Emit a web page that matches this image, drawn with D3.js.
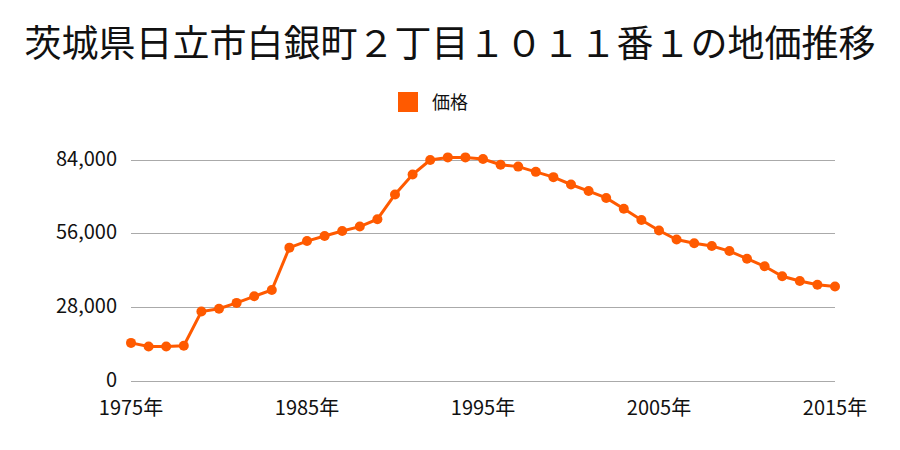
<!DOCTYPE html>
<html>
<head>
<meta charset="utf-8">
<script src="https://cdn.jsdelivr.net/npm/d3@7"></script>
<style>
  body { margin: 0; background: #fff; }
  svg text { font-family: "Noto Sans CJK JP", "Noto Sans", sans-serif; }
</style>
</head>
<body>
<div id="chart"></div>
<script>
var title = "茨城県日立市白銀町２丁目１０１１番１の地価推移";
var seriesName = "価格";
var years = [1975,1976,1977,1978,1979,1980,1981,1982,1983,1984,1985,1986,1987,1988,1989,1990,
  1991,1992,1993,1994,1995,1996,1997,1998,1999,2000,2001,2002,2003,2004,2005,2006,2007,2008,
  2009,2010,2011,2012,2013,2014,2015];
var prices = [14300,12900,12900,13200,26200,27300,29500,32000,34400,50500,53000,54900,56800,58500,
  61300,70700,78300,83800,84800,84800,84200,82000,81300,79300,77300,74500,72000,69400,65300,
  61000,57000,53600,52200,51100,49200,46300,43400,39600,37800,36400,35700];
var yTicks = [0, 28000, 56000, 84000];
var xTicks = [1975, 1985, 1995, 2005, 2015];

var color = "#ff5a00";
var width = 900, height = 450;
var svg = d3.select("#chart").append("svg").attr("width", width).attr("height", height);

var x = d3.scaleLinear().domain([1975, 2015]).range([131, 835]);
var y = d3.scaleLinear().domain([0, 84000]).range([380.5, 159.5]);

// title
svg.append("text")
  .attr("x", width / 2).attr("y", 57)
  .attr("text-anchor", "middle")
  .attr("font-size", "37px")
  .attr("fill", "#111")
  .text(title);

// legend
svg.append("rect").attr("x", 398).attr("y", 92).attr("width", 20).attr("height", 20).attr("fill", color);
svg.append("text").attr("x", 432).attr("y", 109).attr("font-size", "18px").attr("fill", "#111").text(seriesName);

// grid + y labels
var yAxis = svg.append("g");
yAxis.selectAll("line").data(yTicks).enter().append("line")
  .attr("x1", x(1975)).attr("x2", x(2015))
  .attr("y1", function(d) { return Math.round(y(d)) + 0.5; })
  .attr("y2", function(d) { return Math.round(y(d)) + 0.5; })
  .attr("stroke", "#aaa").attr("stroke-width", 1);
yAxis.selectAll("text").data(yTicks).enter().append("text")
  .attr("x", 117).attr("y", function(d) { return y(d) + 6; })
  .attr("text-anchor", "end")
  .attr("font-size", "20px").attr("fill", "#111")
  .text(function(d) { return d3.format(",")(d); });

// x labels
svg.append("g").selectAll("text").data(xTicks).enter().append("text")
  .attr("x", function(d) { return x(d); }).attr("y", 415)
  .attr("text-anchor", "middle")
  .attr("font-size", "20px").attr("fill", "#111")
  .text(function(d) { return d + "年"; });

// line
var data = years.map(function(yr, i) { return { year: yr, value: prices[i] }; });
var line = d3.line().x(function(d) { return x(d.year); }).y(function(d) { return y(d.value); });
svg.append("path").datum(data)
  .attr("d", line)
  .attr("fill", "none").attr("stroke", color).attr("stroke-width", 3);

svg.append("g").selectAll("circle").data(data).enter().append("circle")
  .attr("cx", function(d) { return x(d.year); })
  .attr("cy", function(d) { return y(d.value); })
  .attr("r", 5)
  .attr("fill", color);
</script>
</body>
</html>
